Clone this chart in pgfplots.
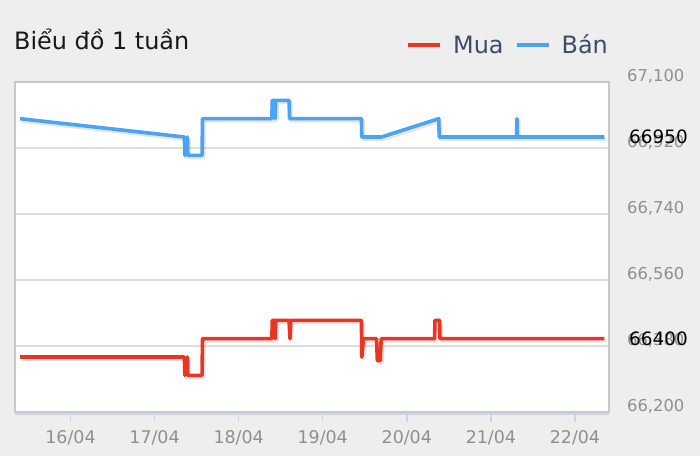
\documentclass[border=0pt]{standalone}
\usepackage{pgfplots}
\pgfplotsset{compat=1.18}
\usepackage{pgfplotstable}
\usepackage{fontspec}
\setmainfont{DejaVu Sans}

\definecolor{bg}{HTML}{EEEEEE}
\definecolor{mua}{HTML}{EB3524}
\definecolor{ban}{HTML}{4AA3F5}
\definecolor{frame}{HTML}{C8C8C8}
\definecolor{gridc}{HTML}{DEDEDE}
\definecolor{axisc}{HTML}{CCD6EB}
\definecolor{lbl}{HTML}{8F8F8F}
\definecolor{legtxt}{HTML}{3E4C66}

% Ban (sell) price, x in days of April
\pgfplotstableread{
d v
15.40 67000
17.355 66950
17.36 66900
17.39 66950
17.395 66900
17.565 66900
17.57 67000
18.395 67000
18.40 67050
18.43 67050
18.435 67000
18.44 67050
18.60 67050
18.605 67000
19.46 67000
19.465 66950
19.70 66950
20.38 67000
20.385 66950
21.305 66950
21.31 67000
21.315 66950
22.35 66950
}\ban

% Mua (buy) price
\pgfplotstableread{
d v
15.40 66350
17.355 66350
17.36 66300
17.39 66350
17.395 66300
17.565 66300
17.57 66400
18.395 66400
18.40 66450
18.43 66450
18.435 66400
18.44 66450
18.60 66450
18.61 66400
18.62 66450
19.46 66450
19.465 66350
19.485 66400
19.64 66400
19.65 66340
19.685 66340
19.695 66400
20.33 66400
20.335 66450
20.39 66450
20.395 66400
22.35 66400
}\mua

\begin{document}
\begin{tikzpicture}
\fill[bg] (0,0) rectangle (700bp,456bp);
\begin{axis}[
  at={(15bp,44bp)}, anchor=south west,
  scale only axis, width=594bp, height=330bp,
  xmin=15.34, xmax=22.405,
  ymin=66200, ymax=67100,
  clip=false,
  axis background/.style={fill=white},
  axis line style={draw=frame, line width=2bp},
  xtick={16,17,18,19,20,21,22},
  xticklabels={16/04,17/04,18/04,19/04,20/04,21/04,22/04},
  ytick={66200,66380,66560,66740,66920,67100},
  scaled y ticks=false,
  yticklabel pos=right,
  xtick pos=bottom,
  tick align=outside,
  major tick length=10bp,
  xtick style={draw=axisc, line width=1.5bp},
  ytick style={draw=none},
  ymajorgrids,
  grid style={draw=gridc, line width=1.5bp},
  yticklabel style={font=\fontsize{16.4}{16}\selectfont, text=lbl,
    anchor=west, inner sep=0pt, xshift=8bp, yshift=6bp},
  xticklabel style={font=\fontsize{17.5}{17}\selectfont, text=lbl,
    inner sep=0pt, yshift=-8bp},
  /pgf/number format/1000 sep={,},
  /pgf/number format/assume math mode=true,
  legend columns=2,
  legend image code/.code={\draw[#1, line width=4bp] (0bp,0bp) -- (32bp,0bp);},
  legend style={at={(0.998,1.112)}, anchor=east, draw=none, fill=none,
    inner sep=0pt, outer sep=0pt, column sep=11bp,
    nodes={inner sep=0pt, text=legtxt},
    font=\fontsize{24}{24}\selectfont},
  every axis plot/.append style={line width=3.6bp, line join=round},
]
\addplot[forget plot, draw=black, opacity=0.1, line width=4bp,
  xshift=1.5bp, yshift=-2bp] table[x=d, y=v] {\mua};
\addplot[forget plot, draw=black, opacity=0.1, line width=4bp,
  xshift=1.5bp, yshift=-2bp] table[x=d, y=v] {\ban};
\addplot[mua] table[x=d, y=v] {\mua};
\addlegendentry{Mua}
\addplot[ban] table[x=d, y=v] {\ban};
\addlegendentry{Bán}
\draw[axisc, line width=1.5bp] ([yshift=-2bp]rel axis cs:0,0) -- ([yshift=-2bp]rel axis cs:1,0);
\node[anchor=west, inner sep=0pt, font=\fontsize{18.5}{18}\selectfont]
  at ([xshift=20bp]axis cs:22.405,66950) {66950};
\node[anchor=west, inner sep=0pt, font=\fontsize{18.5}{18}\selectfont]
  at ([xshift=20bp]axis cs:22.405,66400) {66400};
\end{axis}
\node[anchor=base west, inner sep=0pt, font=\fontsize{24}{24}\selectfont,
  text=black!90] at (14bp,406bp) {Biểu đồ 1 tuần};
\end{tikzpicture}
\end{document}
